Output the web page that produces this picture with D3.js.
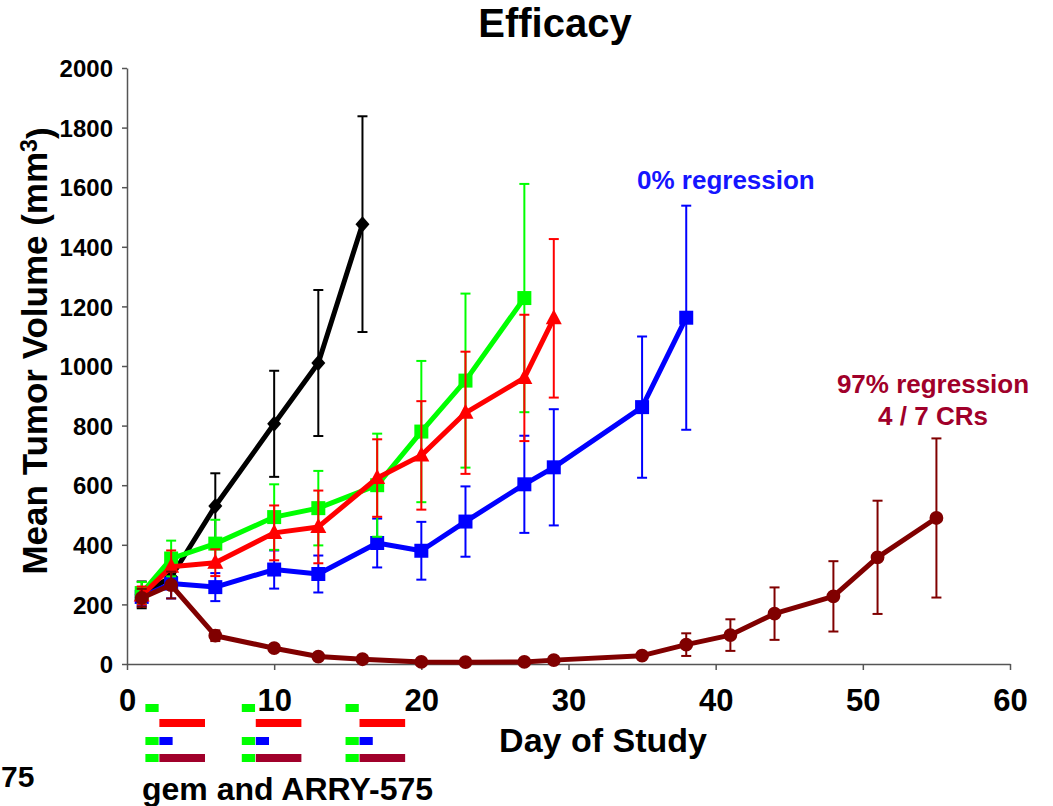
<!DOCTYPE html>
<meta charset="utf-8">
<html>
  <head>
    <style>
      body { margin: 0; background: #fff; }
      svg text { font-family: Arial, "Liberation Sans", sans-serif; font-weight: bold; }
      .axis path, .axis line { stroke: #555; stroke-width: 1.5px; }
    </style>
    <script src="https://d3js.org/d3.v7.min.js"></script>
  </head>
  <body>
<div id="chart"></div>

<script type="text/javascript">
// data (day of study, mean volume mm3, error bar half-height)
var blackDays = [1, 3, 6, 10, 13, 16];
var blackMean = [232, 292, 530, 806, 1010, 1476];
var blackErr  = [45, 40, 110, 178, 245, 362];

var greenDays = [1, 3, 6, 10, 13, 17, 20, 23, 27];
var greenMean = [238, 354, 404, 493, 523, 600, 780, 951, 1228];
var greenErr  = [37, 60, 80, 110, 125, 173, 237, 292, 383];

var redDays = [1, 3, 6, 10, 13, 17, 20, 23, 27, 29];
var redMean = [230, 326, 340, 440, 460, 624, 700, 843, 960, 1160];
var redErr  = [30, 55, 45, 92, 122, 130, 182, 205, 212, 266];

var blueDays = [1, 3, 6, 10, 13, 17, 20, 23, 27, 29, 35, 38];
var blueMean = [225, 270, 258, 317, 302, 406, 380, 478, 603, 660, 862, 1162];
var blueErr  = [30, 50, 47, 64, 62, 82, 97, 118, 163, 195, 237, 376];

var darkDays = [1, 3, 6, 10, 13, 16, 20, 23, 27, 29, 35, 38, 41, 44, 48, 51, 55];
var darkMean = [222, 265, 95, 53, 25, 16, 7, 6, 7, 13, 28, 65, 97, 169, 227, 358, 490];
var darkErr  = [30, 45, 18, 8, 5, 4, 3, 3, 3, 5, 8, 38, 53, 88, 118, 190, 267];

var xTicks = [0, 10, 20, 30, 40, 50, 60];
var yTicks = [0, 200, 400, 600, 800, 1000, 1200, 1400, 1600, 1800, 2000];

// dosing schedule bars under the axis (start day of each cycle)
var cycleStarts = [1.25, 7.8, 14.85];
var gemLength = 0.9;     // green block, days
var longLength = 3.1;    // red / dark red block, days
var shortLength = 0.9;   // blue block, days

var series = [
  {name: "vehicle", color: "#000000", shape: "diamond", days: blackDays, mean: blackMean, err: blackErr},
  {name: "blue",    color: "#0000FF", shape: "square",  days: blueDays,  mean: blueMean,  err: blueErr},
  {name: "green",   color: "#00FF00", shape: "square",  days: greenDays, mean: greenMean, err: greenErr},
  {name: "red",     color: "#FF0000", shape: "triangle",days: redDays,   mean: redMean,   err: redErr},
  {name: "combo",   color: "#800000", shape: "circle",  days: darkDays,  mean: darkMean,  err: darkErr}
];

var W = 1053, H = 806;
var svg = d3.select("#chart").append("svg")
  .attr("width", W).attr("height", H);

var x = d3.scaleLinear().domain([0, 60]).range([127, 1010]);
var y = d3.scaleLinear().domain([0, 2000]).range([664, 68]);

// axes
svg.append("g")
  .attr("class", "axis")
  .attr("transform", "translate(0,664)")
  .call(d3.axisBottom(x).tickValues(xTicks).tickSize(6).tickSizeOuter(0).tickFormat(d3.format("d")))
  .call(g => g.selectAll("text")
    .attr("y", 0).attr("dy", 0)
    .attr("transform", "translate(0,47)")
    .style("font-size", "31px").attr("fill", "#000"));

svg.append("g")
  .attr("class", "axis")
  .attr("transform", "translate(127,0)")
  .call(d3.axisLeft(y).tickValues(yTicks).tickSize(5).tickSizeOuter(0).tickFormat(d3.format("d")))
  .call(g => g.selectAll("text")
    .attr("x", -14).attr("dy", "0.36em")
    .style("font-size", "24px").attr("fill", "#000"));

// titles
svg.append("text")
  .attr("x", 555).attr("y", 37)
  .attr("text-anchor", "middle")
  .style("font-size", "40px")
  .text("Efficacy");

svg.append("text")
  .attr("x", 603).attr("y", 752)
  .attr("text-anchor", "middle")
  .style("font-size", "34px")
  .text("Day of Study");

var yl = svg.append("text")
  .attr("transform", "translate(47,351) rotate(-90)")
  .attr("text-anchor", "middle")
  .style("font-size", "35px");
yl.append("tspan").text("Mean Tumor Volume (mm");
yl.append("tspan").attr("dy", "-0.45em").style("font-size", "23px").text("3");
yl.append("tspan").attr("dy", "0.45em").text(")");

// series
var symbolPath = function(shape) {
  if (shape === "diamond") return "M0,-8L7,0L0,8L-7,0Z";
  if (shape === "square") return "M-7,-7H7V7H-7Z";
  if (shape === "triangle") return "M0,-9L8,6H-8Z";
  return d3.symbol().type(d3.symbolCircle).size(150)();
};

series.forEach(function(s) {
  var pts = s.days.map(function(d, i) { return {day: d, mean: s.mean[i], err: s.err[i]}; });
  var g = svg.append("g");

  var eb = g.selectAll(".eb").data(pts).enter().append("g")
    .attr("stroke", s.color).attr("stroke-width", 2);
  eb.append("line")
    .attr("x1", d => x(d.day)).attr("x2", d => x(d.day))
    .attr("y1", d => y(d.mean + d.err)).attr("y2", d => y(Math.max(0, d.mean - d.err)));
  eb.append("line")
    .attr("x1", d => x(d.day) - 5).attr("x2", d => x(d.day) + 5)
    .attr("y1", d => y(d.mean + d.err)).attr("y2", d => y(d.mean + d.err));
  eb.append("line")
    .attr("x1", d => x(d.day) - 5).attr("x2", d => x(d.day) + 5)
    .attr("y1", d => y(Math.max(0, d.mean - d.err))).attr("y2", d => y(Math.max(0, d.mean - d.err)));

  g.append("path")
    .datum(pts)
    .attr("fill", "none")
    .attr("stroke", s.color)
    .attr("stroke-width", 5)
    .attr("stroke-linejoin", "round")
    .attr("d", d3.line().x(d => x(d.day)).y(d => y(d.mean)));

  g.selectAll(".pt").data(pts).enter().append("path")
    .attr("transform", d => "translate(" + x(d.day) + "," + y(d.mean) + ")")
    .attr("d", symbolPath(s.shape))
    .attr("fill", s.color);
});

// annotations
svg.append("text")
  .attr("x", 637).attr("y", 189)
  .attr("fill", "#1515FF")
  .style("font-size", "26px")
  .text("0% regression");

svg.append("text")
  .attr("x", 933).attr("y", 393)
  .attr("text-anchor", "middle")
  .attr("fill", "#A0002A")
  .style("font-size", "26px")
  .text("97% regression");

svg.append("text")
  .attr("x", 933).attr("y", 425)
  .attr("text-anchor", "middle")
  .attr("fill", "#A0002A")
  .style("font-size", "26px")
  .text("4 / 7 CRs");

// schedule bars
var rows = [
  {gy: 704, by: 719, color: "#FF0000", len: longLength},
  {gy: 737, by: 737, color: "#0000FF", len: shortLength},
  {gy: 754, by: 754, color: "#A0002A", len: longLength}
];
rows.forEach(function(r) {
  cycleStarts.forEach(function(c) {
    svg.append("rect")
      .attr("x", x(c)).attr("y", r.gy)
      .attr("width", x(c + gemLength) - x(c)).attr("height", 8)
      .attr("fill", "#00FF00");
    svg.append("rect")
      .attr("x", x(c + gemLength + 0.05)).attr("y", r.by)
      .attr("width", x(c + gemLength + 0.05 + r.len) - x(c + gemLength + 0.05)).attr("height", 8)
      .attr("fill", r.color);
  });
});

svg.append("text")
  .attr("x", 142).attr("y", 800)
  .style("font-size", "32px")
  .text("gem and ARRY-575");

// fragment of a label that sits at the left edge of the slide
svg.append("text")
  .attr("x", 1).attr("y", 787)
  .style("font-size", "30px")
  .text("75");
</script>
</body>
</html>
